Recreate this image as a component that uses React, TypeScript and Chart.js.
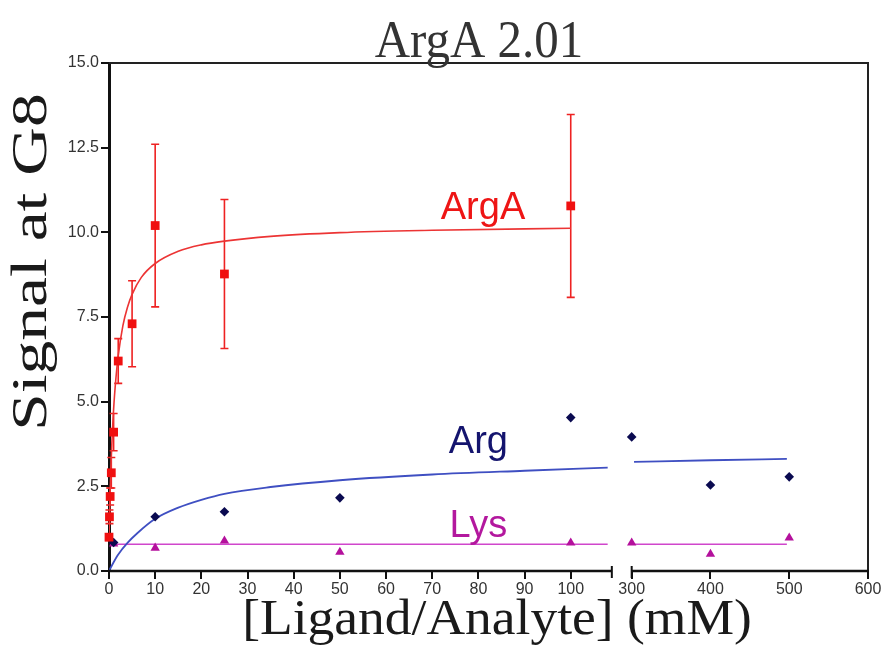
import React, { useEffect, useRef } from "react";
import { Chart, registerables } from "chart.js";

Chart.register(...registerables);

// ---- data ----
const argaX = [0, 0.1, 0.25, 0.5, 1, 2, 5, 10, 25, 100];
const argaY = [1.0, 1.6, 2.2, 2.9, 4.1, 6.2, 7.3, 10.2, 8.77, 10.78];
const argaErr = [0.1, 0.2, 0.25, 0.45, 0.55, 0.66, 1.27, 2.4, 2.2, 2.7];

const argX = [1, 10, 25, 50, 100, 300, 400, 500];
const argY = [0.84, 1.6, 1.75, 2.16, 4.53, 3.96, 2.54, 2.78];

const lysX = [1, 10, 25, 50, 100, 300, 400, 500];
const lysY = [0.8, 0.68, 0.89, 0.56, 0.83, 0.83, 0.5, 0.98];

const argaFitX = [0, 0.25, 0.5, 1, 1.5, 2, 3, 4, 5, 7, 10, 15, 20, 25, 35, 50, 70, 100];
const argaFitY = [1.0, 2.36, 3.37, 4.78, 5.7, 6.36, 7.24, 7.79, 8.17, 8.67, 9.08, 9.44, 9.63, 9.74, 9.88, 9.99, 10.06, 10.12];

const argFitLeftX = [0, 1, 2, 4, 6, 10, 15, 20, 25, 35, 50, 70, 90, 108];
const argFitLeftY = [0, 0.26, 0.49, 0.83, 1.1, 1.54, 1.87, 2.1, 2.28, 2.48, 2.68, 2.85, 2.96, 3.05];
const argFitRightX = [303, 400, 497];
const argFitRightY = [3.22, 3.27, 3.31];

const lysFitLeftX = [0.2, 108];
const lysFitLeftY = [0.79, 0.79];
const lysFitRightX = [303, 497];
const lysFitRightY = [0.79, 0.79];

const xTickValues = [0, 10, 20, 30, 40, 50, 60, 70, 80, 90, 100, 300, 400, 500, 600];
const yTickValues = [0, 2.5, 5, 7.5, 10, 12.5, 15];

const seriesLabels = ["ArgA", "Arg", "Lys"];
const seriesLabelX = [81, 80, 80];
const seriesLabelY = [10.38, 3.49, 1.0];
const seriesLabelColors = ["#ee1515", "#14146e", "#b3189e"];

// ---- broken x axis ----
const LEFT_END = 108.9; // mM where left segment ends
const RIGHT_START = 300; // mM where right segment starts
const RIGHT_OFFSET = 113.2;
const RIGHT_FACTOR = 0.1706;
const mapX = (x: number) => (x <= LEFT_END + 1 ? x : RIGHT_OFFSET + (x - RIGHT_START) * RIGHT_FACTOR);
const X_MAX = mapX(600);

const SERIF = "'Liberation Serif', 'Times New Roman', serif";
const SANS = "'Liberation Sans', Arial, sans-serif";

const pts = (xs: number[], ys: number[]) => xs.map((x, i) => ({ x: mapX(x), y: ys[i] }));
const joinSegs = (a: { x: number; y: number }[], b: { x: number; y: number }[]) => [
  ...a,
  { x: (a[a.length - 1].x + b[0].x) / 2, y: null as any },
  ...b,
];

const decorPlugin = {
  id: "decor",
  beforeDatasetsDraw(chart: any) {
    const { ctx, scales } = chart;
    const ys = scales.y;
    const meta = chart.getDatasetMeta(0);
    ctx.save();
    ctx.strokeStyle = "#ee2222";
    ctx.lineWidth = 1.6;
    meta.data.forEach((el: any, i: number) => {
      const top = ys.getPixelForValue(argaY[i] + argaErr[i]);
      const bot = ys.getPixelForValue(argaY[i] - argaErr[i]);
      ctx.beginPath();
      ctx.moveTo(el.x, top);
      ctx.lineTo(el.x, bot);
      ctx.moveTo(el.x - 4, top);
      ctx.lineTo(el.x + 4, top);
      ctx.moveTo(el.x - 4, bot);
      ctx.lineTo(el.x + 4, bot);
      ctx.stroke();
    });
    ctx.restore();
  },
  afterDraw(chart: any) {
    const { ctx, chartArea, scales } = chart;
    const xs = scales.x;
    const ys = scales.y;
    const { left, right, top, bottom } = chartArea;
    ctx.save();
    // frame top + right
    ctx.strokeStyle = "#222";
    ctx.lineWidth = 2;
    ctx.beginPath();
    ctx.moveTo(left, top);
    ctx.lineTo(right, top);
    ctx.lineTo(right, bottom);
    ctx.stroke();
    // broken x axis line
    const bx1 = xs.getPixelForValue(mapX(LEFT_END));
    const bx2 = xs.getPixelForValue(mapX(RIGHT_START));
    ctx.strokeStyle = "#111";
    ctx.lineWidth = 2.5;
    ctx.beginPath();
    ctx.moveTo(left - 1, bottom);
    ctx.lineTo(bx1, bottom);
    ctx.moveTo(bx2, bottom);
    ctx.lineTo(right + 1, bottom);
    ctx.stroke();
    ctx.lineWidth = 2;
    ctx.beginPath();
    ctx.moveTo(bx1, bottom - 5);
    ctx.lineTo(bx1, bottom + 7);
    ctx.moveTo(bx2, bottom - 5);
    ctx.lineTo(bx2, bottom + 7);
    ctx.stroke();

    const drawText = (
      text: string, x: number, y: number, font: string, color: string,
      rot = 0, sx = 1, sy = 1
    ) => {
      ctx.save();
      ctx.translate(x, y);
      ctx.rotate(rot);
      ctx.scale(sx, sy);
      ctx.font = font;
      ctx.fillStyle = color;
      ctx.textAlign = "center";
      ctx.textBaseline = "alphabetic";
      ctx.fillText(text, 0, 0);
      ctx.restore();
    };
    // title
    drawText("ArgA 2.01", 479, 57, `48px ${SERIF}`, "#333", 0, 1.02, 1.12);
    // x title
    drawText("[Ligand/Analyte] (mM)", 497, 634, `50px ${SERIF}`, "#1a1a1a", 0, 1.07, 1);
    // y title
    drawText("Signal at G8", 46, 262, `50px ${SERIF}`, "#1a1a1a", -Math.PI / 2, 1.35, 1);
    // series labels
    seriesLabels.forEach((t, i) => {
      drawText(
        t,
        xs.getPixelForValue(seriesLabelX[i]),
        ys.getPixelForValue(seriesLabelY[i]),
        `38px ${SANS}`,
        seriesLabelColors[i]
      );
    });
    ctx.restore();
  },
};

export default function App() {
  const ref = useRef<HTMLCanvasElement | null>(null);
  useEffect(() => {
    document.body.style.margin = "0";
    const canvas = ref.current;
    if (!canvas) return;
    const chart = new Chart(canvas, {
      type: "scatter",
      data: {
        datasets: [
          {
            label: "ArgA",
            data: pts(argaX, argaY),
            pointStyle: "rect",
            pointRadius: 6.2,
            backgroundColor: "#f01010",
            borderColor: "#f01010",
            borderWidth: 0,
            showLine: false,
            clip: false,
          } as any,
          {
            label: "ArgA fit",
            data: pts(argaFitX, argaFitY),
            showLine: true,
            pointRadius: 0,
            borderColor: "#ec3434",
            borderWidth: 1.6,
            cubicInterpolationMode: "monotone",
          },
          {
            label: "Arg",
            data: pts(argX, argY),
            pointStyle: "rectRot",
            pointRadius: 4.8,
            backgroundColor: "#0a0a50",
            borderColor: "#0a0a50",
            borderWidth: 0,
            showLine: false,
            clip: false,
          } as any,
          {
            label: "Arg fit",
            data: joinSegs(pts(argFitLeftX, argFitLeftY), pts(argFitRightX, argFitRightY)),
            showLine: true,
            spanGaps: false,
            pointRadius: 0,
            borderColor: "#3f4fc2",
            borderWidth: 1.8,
            cubicInterpolationMode: "monotone",
          },
          {
            label: "Lys",
            data: pts(lysX, lysY),
            pointStyle: "triangle",
            pointRadius: 5.4,
            backgroundColor: "#b4109c",
            borderColor: "#b4109c",
            borderWidth: 0,
            showLine: false,
            clip: false,
          } as any,
          {
            label: "Lys fit",
            data: joinSegs(pts(lysFitLeftX, lysFitLeftY), pts(lysFitRightX, lysFitRightY)),
            showLine: true,
            spanGaps: false,
            pointRadius: 0,
            borderColor: "#d046cc",
            borderWidth: 1.6,
          },
        ],
      },
      options: {
        responsive: false,
        animation: false,
        layout: { padding: { top: 63, right: 16, left: 0, bottom: 0 } },
        plugins: {
          legend: { display: false },
          tooltip: { enabled: false },
          title: { display: false },
        },
        scales: {
          x: {
            type: "linear",
            min: 0,
            max: X_MAX,
            afterFit: (s: any) => {
              s.height = 76;
            },
            afterBuildTicks: (s: any) => {
              s.ticks = xTickValues.map((v) => ({ value: mapX(v) }));
            },
            ticks: {
              autoSkip: false,
              maxRotation: 0,
              padding: 1,
              color: "#333",
              font: { size: 16, family: SANS },
              callback: (_v: any, i: number) => String(xTickValues[i]),
            },
            grid: {
              display: true,
              drawOnChartArea: false,
              drawTicks: true,
              tickLength: 8,
              color: "#111",
              lineWidth: 2,
            },
            border: { display: false },
          },
          y: {
            type: "linear",
            min: 0,
            max: 15,
            afterFit: (s: any) => {
              s.width = 109;
            },
            afterBuildTicks: (s: any) => {
              s.ticks = yTickValues.map((v) => ({ value: v }));
            },
            ticks: {
              padding: 2,
              color: "#333",
              font: { size: 16, family: SANS },
              callback: (v: any) => Number(v).toFixed(1),
            },
            grid: {
              display: true,
              drawOnChartArea: false,
              drawTicks: true,
              tickLength: 8,
              color: "#111",
              lineWidth: 2,
            },
            border: { display: true, color: "#111", width: 3 },
          },
        },
      },
      plugins: [decorPlugin],
    });
    return () => chart.destroy();
  }, []);
  return (
    <div style={{ width: 884, height: 647, background: "#fff" }}>
      <canvas ref={ref} width={884} height={647} />
    </div>
  );
}
